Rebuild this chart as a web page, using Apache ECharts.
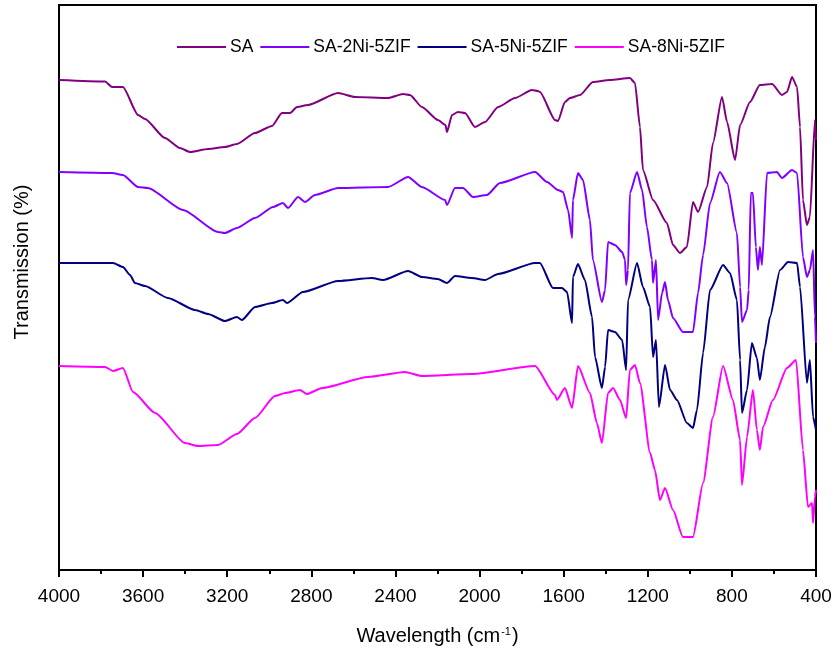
<!DOCTYPE html>
<html>
<head>
<meta charset="utf-8">
<script src="https://cdn.jsdelivr.net/npm/echarts@6/dist/echarts.min.js"></script>
<style>
  html, body { margin: 0; padding: 0; background: #fff; }
  #chart { width: 840px; height: 659px; }
</style>
</head>
<body>
<div id="chart"></div>
<script>
// FTIR spectra, wavenumber (cm-1) and transmission (a.u., curves stacked)
var seriesNames = ['SA', 'SA-2Ni-5ZIF', 'SA-5Ni-5ZIF', 'SA-8Ni-5ZIF'];
var seriesColors = ['#800080', '#8000ff', '#000080', '#ff00ff'];
var xTicks = [4000, 3600, 3200, 2800, 2400, 2000, 1600, 1200, 800, 400];

var saWn = [4000, 3781, 3748, 3696, 3624, 3591, 3496, 3425, 3377, 3291, 3211, 3154, 3068, 2987, 2940, 2901, 2868, 2816, 2673, 2592, 2435, 2364, 2331, 2274, 2198, 2162, 2155, 2131, 2103, 2069, 2022, 1974, 1912, 1831, 1751, 1722, 1713, 1641, 1627, 1594, 1570, 1522, 1461, 1380, 1285, 1261, 1237, 1223, 1175, 1109, 1080, 1047, 1014, 985, 961, 918, 890, 847, 823, 785, 761, 714, 667, 609, 562, 538, 514, 490, 476, 462, 443, 429, 405, 400];
var saT = [98.0, 97.7, 96.6, 96.6, 91.0, 90.2, 86.4, 84.4, 83.6, 84.2, 84.6, 85.2, 87.4, 88.8, 91.4, 91.4, 92.6, 93.0, 95.4, 94.6, 94.4, 95.2, 95.0, 92.6, 90.0, 89.0, 87.6, 91.0, 91.6, 91.4, 88.6, 89.6, 92.6, 94.4, 96.0, 95.8, 95.6, 90.0, 89.8, 93.6, 94.4, 95.0, 97.6, 98.0, 98.4, 97.4, 88.6, 80.0, 74.0, 69.4, 65.0, 63.4, 64.6, 73.6, 71.6, 76.6, 85.4, 94.6, 89.6, 82.0, 89.0, 93.6, 97.0, 97.2, 95.0, 95.6, 98.6, 96.6, 88.6, 74.0, 69.0, 70.6, 90.0, 86.0];

var ni2Wn = [4000, 3748, 3696, 3624, 3577, 3410, 3244, 3211, 3154, 3068, 2982, 2935, 2911, 2863, 2830, 2783, 2673, 2435, 2340, 2274, 2164, 2155, 2117, 2079, 2031, 1965, 1903, 1736, 1679, 1627, 1603, 1579, 1560, 1556, 1532, 1508, 1475, 1461, 1418, 1403, 1389, 1356, 1322, 1308, 1303, 1294, 1285, 1251, 1227, 1204, 1180, 1175, 1161, 1151, 1132, 1118, 1104, 1080, 1033, 985, 961, 937, 904, 857, 823, 776, 761, 752, 728, 720, 710, 700, 686, 676, 667, 657, 633, 586, 562, 514, 490, 462, 443, 429, 414, 405, 400];
var ni2T = [79.6, 79.4, 79.0, 76.6, 76.4, 72.0, 67.6, 67.4, 68.4, 70.4, 72.6, 73.4, 72.4, 74.6, 73.6, 75.0, 76.4, 76.6, 78.6, 76.6, 74.0, 73.0, 76.4, 76.4, 74.6, 75.0, 77.4, 79.6, 77.6, 76.0, 75.6, 72.0, 66.4, 74.0, 79.4, 78.0, 70.0, 62.0, 53.6, 56.0, 65.6, 65.0, 63.6, 62.0, 57.0, 60.0, 75.4, 79.6, 76.0, 68.6, 62.0, 57.4, 62.0, 50.0, 55.4, 57.6, 54.0, 50.4, 47.6, 47.6, 55.4, 63.0, 73.4, 79.6, 77.4, 67.4, 56.6, 49.6, 52.0, 56.0, 75.4, 75.4, 64.6, 60.0, 64.6, 61.0, 79.4, 79.6, 78.4, 80.0, 79.4, 62.6, 58.6, 60.0, 64.0, 50.6, 45.4];

var ni5Wn = [4000, 3743, 3696, 3662, 3639, 3591, 3482, 3353, 3291, 3211, 3154, 3130, 3068, 2987, 2935, 2916, 2840, 2673, 2512, 2459, 2340, 2274, 2198, 2155, 2117, 2036, 1974, 1912, 1736, 1713, 1651, 1608, 1584, 1560, 1556, 1532, 1499, 1465, 1451, 1418, 1403, 1389, 1356, 1322, 1303, 1294, 1251, 1223, 1189, 1175, 1161, 1147, 1118, 1094, 1061, 1014, 985, 966, 937, 904, 842, 809, 776, 761, 752, 728, 705, 681, 667, 643, 619, 571, 533, 490, 476, 443, 429, 414, 400];
var ni5T = [61.4, 61.4, 60.6, 59.0, 57.4, 56.8, 54.4, 52.0, 51.2, 49.8, 50.6, 50.0, 52.6, 53.4, 54.0, 53.4, 55.6, 57.8, 58.4, 58.0, 59.8, 58.6, 58.2, 57.4, 58.8, 58.4, 58.0, 59.2, 61.4, 61.4, 56.4, 56.4, 55.6, 49.4, 58.6, 61.2, 58.0, 50.6, 42.6, 36.4, 40.6, 48.0, 47.6, 46.0, 40.0, 54.0, 61.4, 56.6, 52.6, 42.6, 46.0, 32.6, 41.0, 36.0, 34.0, 29.4, 28.4, 32.0, 43.4, 56.0, 61.0, 59.4, 54.0, 42.0, 31.4, 36.0, 45.4, 42.4, 38.0, 44.6, 50.6, 60.0, 61.6, 61.4, 56.6, 37.4, 42.0, 30.6, 28.0];

var ni8Wn = [4000, 3781, 3743, 3696, 3648, 3543, 3401, 3339, 3244, 3154, 3068, 2973, 2925, 2854, 2821, 2749, 2531, 2355, 2274, 2036, 1736, 1641, 1632, 1594, 1560, 1532, 1475, 1442, 1418, 1389, 1365, 1332, 1303, 1285, 1261, 1237, 1189, 1166, 1142, 1118, 1080, 1033, 985, 937, 890, 842, 795, 761, 752, 728, 700, 681, 667, 652, 605, 538, 495, 462, 438, 419, 414, 405, 400];
var ni8T = [40.8, 40.6, 39.8, 40.4, 35.6, 31.4, 25.4, 24.8, 25.0, 27.2, 30.4, 34.8, 35.4, 36.0, 35.2, 36.4, 38.6, 39.6, 38.8, 39.2, 40.8, 35.0, 34.0, 36.4, 32.4, 40.8, 35.4, 29.4, 25.4, 35.4, 36.4, 34.0, 30.4, 40.0, 41.0, 37.4, 23.4, 20.0, 14.0, 16.4, 12.0, 6.6, 6.6, 17.4, 30.6, 40.8, 34.0, 26.0, 17.0, 26.6, 36.0, 28.0, 24.0, 28.6, 34.0, 40.4, 42.0, 24.0, 12.6, 13.4, 9.4, 14.6, 16.0];

function pairs(wn, t) {
    var out = [];
    for (var i = 0; i < wn.length; i++) {
        out.push([wn[i], t[i]]);
    }
    return out;
}

var allData = [pairs(saWn, saT), pairs(ni2Wn, ni2T), pairs(ni5Wn, ni5T), pairs(ni8Wn, ni8T)];

var chart = echarts.init(document.getElementById('chart'));
var font = 'Arial, "Liberation Sans", sans-serif';

var option = {
    animation: false,
    backgroundColor: '#fff',
    grid: {
        left: 59,
        right: 24,
        top: 5,
        bottom: 89,
        show: true,
        borderColor: '#000',
        borderWidth: 2
    },
    legend: {
        data: seriesNames,
        left: 172,
        top: 33,
        icon: 'rect',
        itemWidth: 49,
        itemHeight: 2,
        itemGap: 7,
        textStyle: {
            fontFamily: font,
            fontSize: 17.5,
            color: '#000',
            padding: [0, 0, 0, -1]
        }
    },
    xAxis: {
        type: 'value',
        min: 400,
        max: 4000,
        interval: 400,
        inverse: true,
        name: '{n|Wavelength (cm}{s|-1}{n|)}',
        nameLocation: 'middle',
        nameGap: 56,
        nameTextStyle: {
            rich: {
                n: { fontFamily: font, fontSize: 20, color: '#000' },
                s: { fontFamily: font, fontSize: 11, color: '#000', verticalAlign: 'top', padding: [0, 1, 10, 1] }
            }
        },
        axisLine: { show: true, lineStyle: { color: '#000', width: 2 } },
        axisTick: { show: true, inside: false, length: 7, lineStyle: { color: '#000', width: 2 } },
        minorTick: { show: true, splitNumber: 2, length: 4, lineStyle: { color: '#000', width: 2 } },
        axisLabel: {
            fontFamily: font,
            fontSize: 19,
            color: '#000',
            margin: 17,
            formatter: function (v) { return xTicks.indexOf(v) >= 0 ? String(v) : ''; }
        },
        splitLine: { show: false }
    },
    yAxis: {
        type: 'value',
        min: 0,
        max: 113,
        axisLine: { show: true, lineStyle: { color: '#000', width: 2 } },
        axisTick: { show: false },
        axisLabel: { show: false },
        splitLine: { show: false }
    },
    graphic: [{
        type: 'text',
        x: 22,
        y: 262,
        rotation: Math.PI / 2,
        style: {
            text: 'Transmission (%)',
            fontFamily: font,
            fontSize: 20,
            fill: '#000',
            align: 'center',
            verticalAlign: 'middle'
        }
    }],
    series: seriesNames.map(function (name, i) {
        return {
            name: name,
            type: 'line',
            data: allData[i],
            showSymbol: false,
            symbol: 'none',
            smooth: 0.2,
            smoothMonotone: 'x',
            lineStyle: { color: seriesColors[i], width: 2 },
            itemStyle: { color: seriesColors[i] }
        };
    })
};

chart.setOption(option);
window.addEventListener('resize', chart.resize);
</script>
</body>
</html>
